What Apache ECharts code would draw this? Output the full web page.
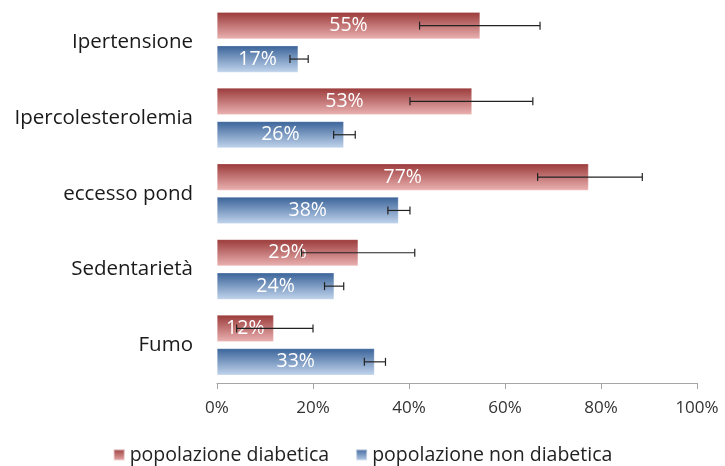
<!DOCTYPE html>
<html>
<head>
<meta charset="utf-8">
<script src="https://cdn.jsdelivr.net/npm/echarts@6/dist/echarts.min.js"></script>
<style>html,body{margin:0;padding:0;background:#fff}#c{width:725px;height:466px}</style>
</head>
<body>
<div id="c"></div>
<script>
var categories = ['Ipertensione', 'Ipercolesterolemia', 'eccesso pond', 'Sedentarietà', 'Fumo'];
var seriesNames = ['popolazione diabetica', 'popolazione non diabetica'];
var diabetica = [54.8, 53.1, 77.4, 29.4, 11.8];
var nonDiabetica = [16.9, 26.4, 37.8, 24.4, 32.8];
var diabeticaErrLow = [42.2, 40.2, 66.8, 17.6, 4.1];
var diabeticaErrHigh = [67.3, 65.8, 88.6, 41.2, 20.0];
var nonDiabeticaErrLow = [15.2, 24.3, 35.6, 22.4, 30.7];
var nonDiabeticaErrHigh = [19.0, 28.8, 40.2, 26.4, 35.1];
var xTicks = [0, 20, 40, 60, 80, 100];

var FONT = 'Open Sans';
var redGrad = new echarts.graphic.LinearGradient(0, 0, 0, 1, [
  {offset: 0, color: '#9b3a3a'}, {offset: 1, color: '#ebb2b2'}]);
var blueGrad = new echarts.graphic.LinearGradient(0, 0, 0, 1, [
  {offset: 0, color: '#3a6399'}, {offset: 1, color: '#c2d5ed'}]);

function errData(lo, hi) {
  return categories.map(function (c, i) { return [i, lo[i], hi[i]]; });
}
function errSeries(lo, hi, sign) {
  return {
    type: 'custom',
    z: 5,
    silent: true,
    data: errData(lo, hi),
    encode: {x: [1, 2], y: 0},
    renderItem: function (params, api) {
      var cat = api.value(0);
      var p1 = api.coord([api.value(1), cat]);
      var p2 = api.coord([api.value(2), cat]);
      var band = api.size([0, 1])[1];
      var y = p1[1] + sign * 0.2205 * band;
      var h = 4;
      var st = {stroke: '#222', lineWidth: 1.2};
      return {
        type: 'group',
        children: [
          {type: 'line', shape: {x1: p1[0], y1: y, x2: p2[0], y2: y}, style: st},
          {type: 'line', shape: {x1: p1[0], y1: y - h, x2: p1[0], y2: y + h}, style: st},
          {type: 'line', shape: {x1: p2[0], y1: y - h, x2: p2[0], y2: y + h}, style: st}
        ]
      };
    }
  };
}

var chart = echarts.init(document.getElementById('c'));
chart.setOption({
  animation: false,
  grid: {left: 217, right: 28, top: 4.5, bottom: 83, containLabel: false},
  legend: {
    bottom: -4, left: 'center',
    itemWidth: 11, itemHeight: 11, itemGap: 26,
    icon: 'rect',
    textStyle: {fontFamily: FONT, fontSize: 19.5, color: '#222'},
    data: [
      {name: seriesNames[0], itemStyle: {color: redGrad}},
      {name: seriesNames[1], itemStyle: {color: blueGrad}}
    ]
  },
  xAxis: {
    type: 'value', min: 0, max: 100, interval: 20,
    axisLine: {show: true, lineStyle: {color: '#a6a6a6'}},
    axisTick: {show: true, length: 6, lineStyle: {color: '#a6a6a6'}},
    splitLine: {show: false},
    axisLabel: {
      fontFamily: FONT, fontSize: 17, color: '#333', margin: 17,
      formatter: function (v) { return xTicks.indexOf(v) >= 0 ? v + '%' : ''; }
    }
  },
  yAxis: {
    type: 'category', data: categories, inverse: true,
    axisLine: {show: false}, axisTick: {show: false},
    axisLabel: {fontFamily: FONT, fontSize: 20.5, color: '#1a1a1a', margin: 24}
  },
  series: [
    {
      name: seriesNames[0], type: 'bar', data: diabetica,
      barWidth: '35.3%', barGap: '25%',
      itemStyle: {color: redGrad, borderColor: 'rgba(255,255,255,0.5)', borderWidth: 0.5},
      label: {show: true, position: 'inside', color: '#fff', fontFamily: FONT, fontSize: 19.5,
        formatter: function (p) { return Math.round(p.value) + '%'; }}
    },
    {
      name: seriesNames[1], type: 'bar', data: nonDiabetica,
      barWidth: '35.3%', barGap: '25%',
      itemStyle: {color: blueGrad, borderColor: 'rgba(255,255,255,0.5)', borderWidth: 0.5},
      label: {show: true, position: 'inside', color: '#fff', fontFamily: FONT, fontSize: 19.5,
        formatter: function (p) { return Math.round(p.value) + '%'; }}
    },
    errSeries(diabeticaErrLow, diabeticaErrHigh, -1),
    errSeries(nonDiabeticaErrLow, nonDiabeticaErrHigh, 1)
  ]
});
</script>
</body>
</html>
